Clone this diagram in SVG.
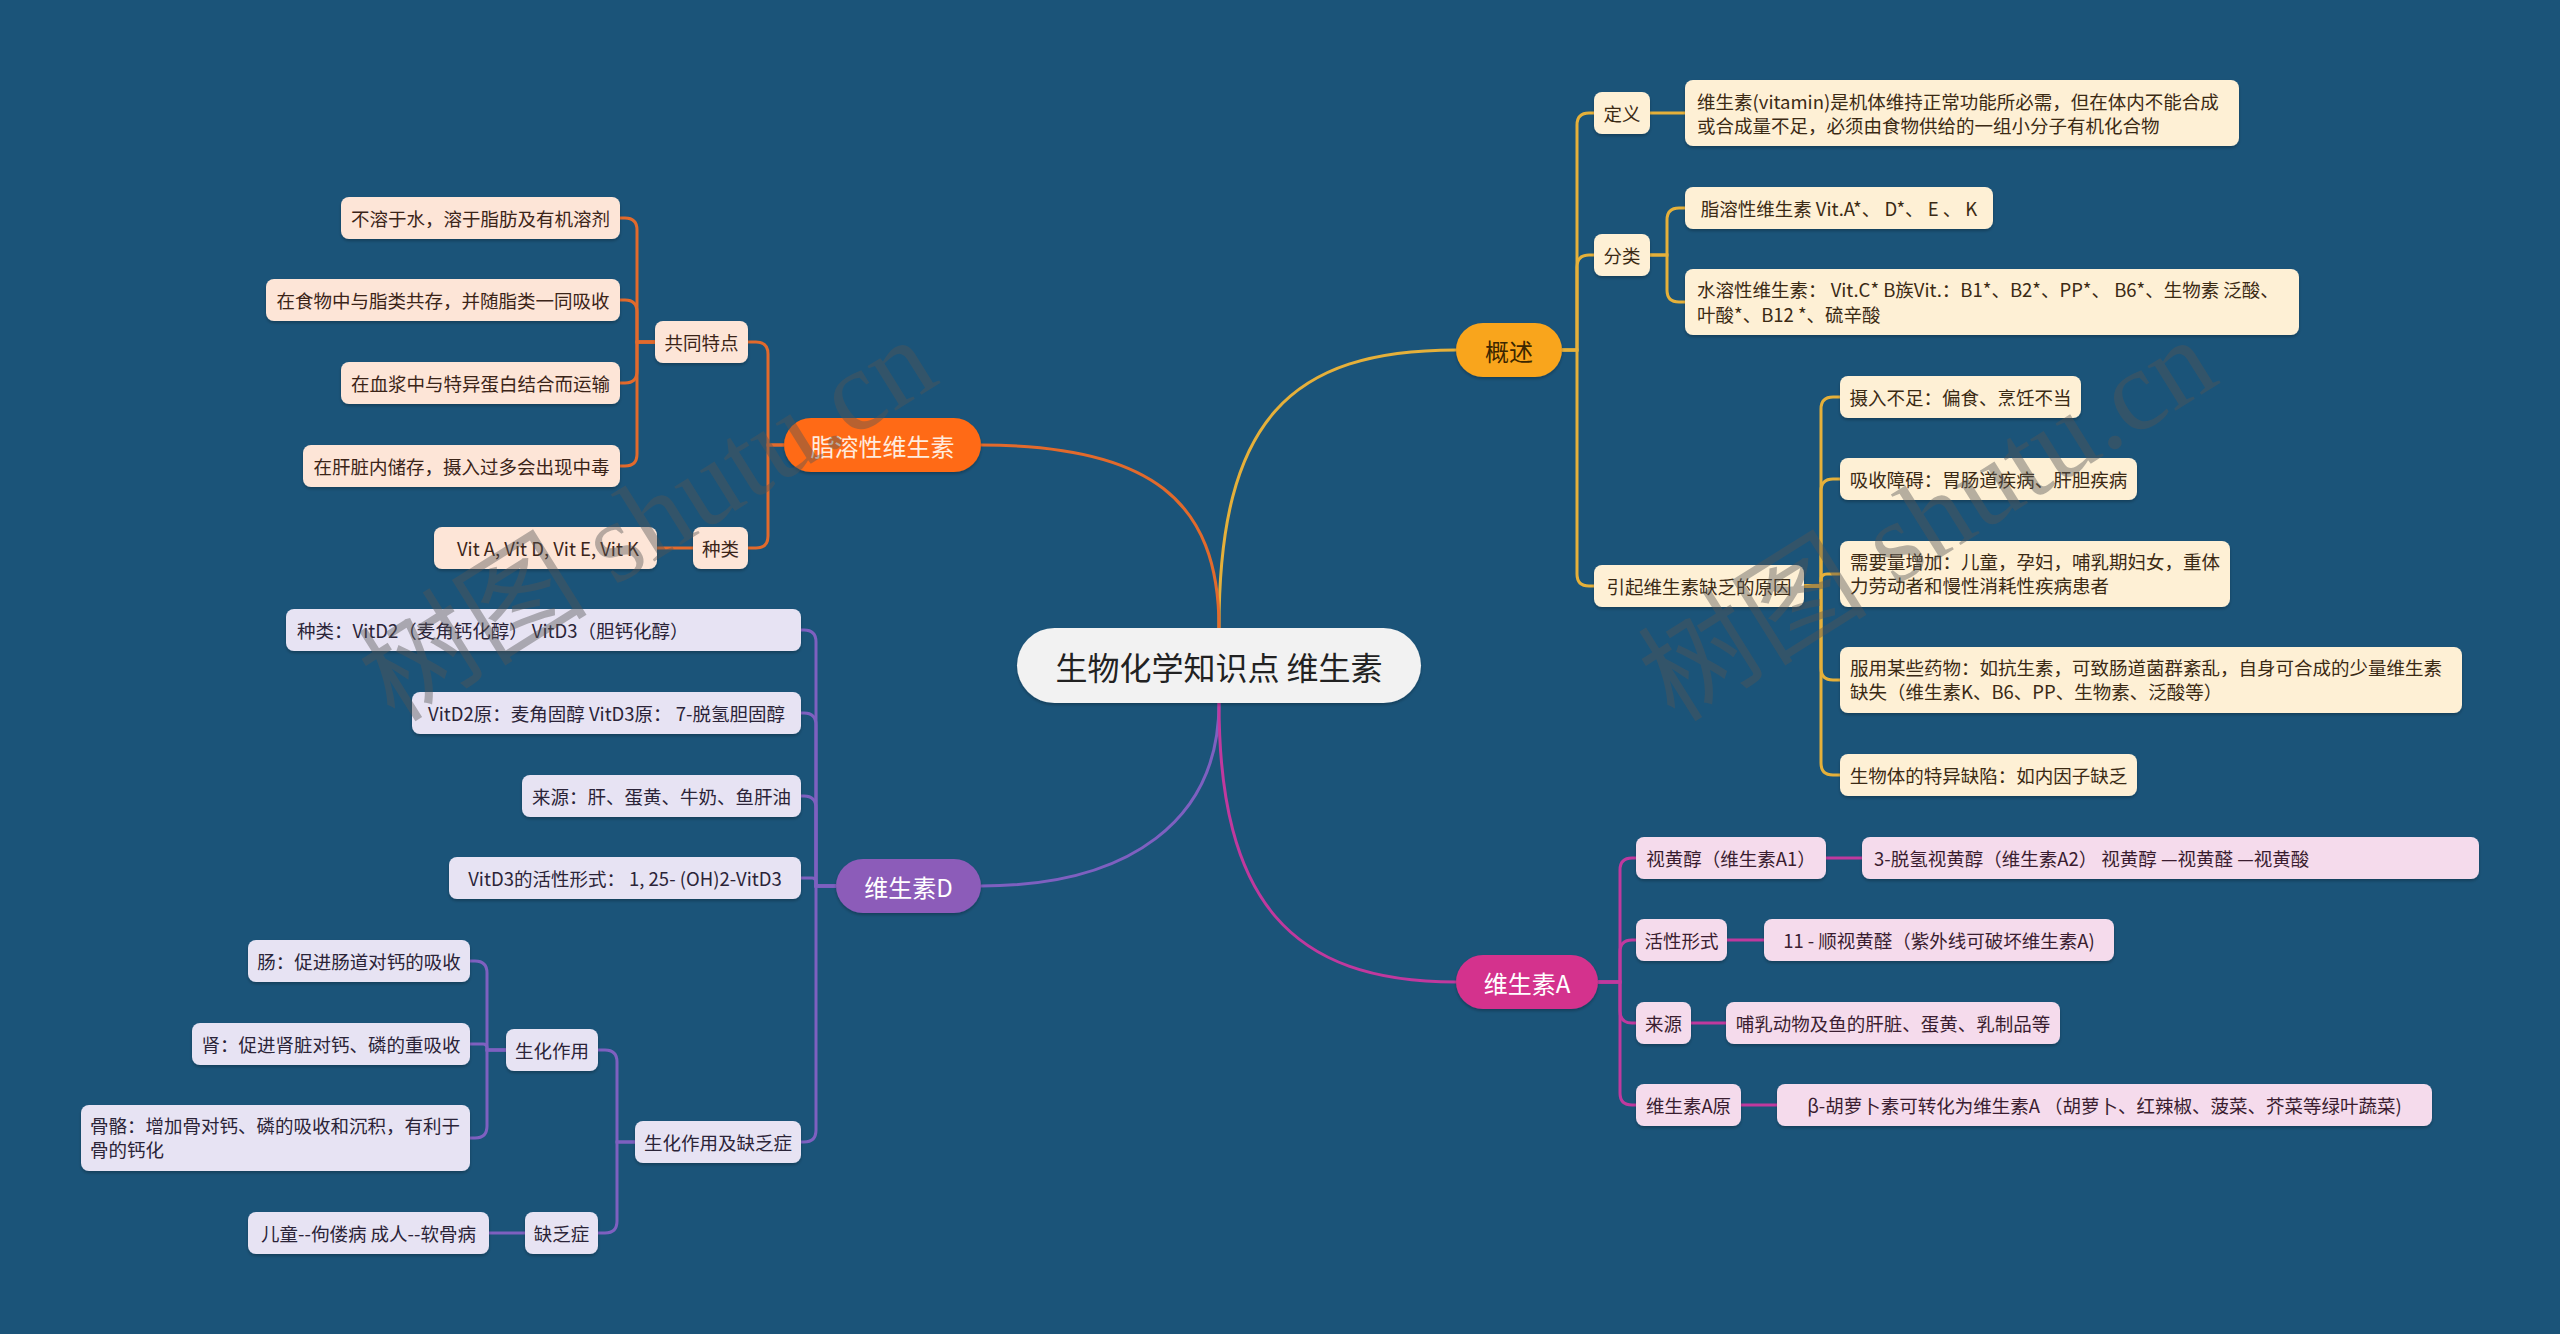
<svg xmlns="http://www.w3.org/2000/svg" width="2560" height="1334" viewBox="0 0 2560 1334">
<defs>
<filter id="sh" x="-10%" y="-20%" width="120%" height="150%">
<feDropShadow dx="0" dy="2" stdDeviation="1.5" flood-color="#000" flood-opacity="0.25"/>
</filter>
<style>
text{font-family:'Noto Sans CJK SC','Noto Sans',sans-serif;}
.t{font-size:18.5px;}
.c{text-anchor:middle;dominant-baseline:central;}
.y rect{fill:#FEF0D5;}
.y text{fill:#3b2a14;}
.o rect{fill:#FDE5D7;}
.o text{fill:#3b2418;}
.p rect{fill:#E7E3F3;}
.p text{fill:#2b2438;}
.m rect{fill:#F5DBEC;}
.m text{fill:#3a1d30;}
.n rect{filter:url(#sh);}
.ly{stroke:#E5B03A;}
.lo{stroke:#E26A2C;}
.lp{stroke:#7E60C0;}
.lm{stroke:#C0399E;}
#links path{fill:none;stroke-width:3;}
.wm{font-family:'Liberation Serif','Noto Sans CJK SC',serif;font-size:115px;fill:#555;opacity:0.42;text-anchor:middle;dominant-baseline:central;}
</style>
</defs>
<rect width="2560" height="1334" fill="#1B5479"/>

<g id="links">
<path class="ly" d="M1219 628 C1219 420 1290 350 1456 350"/>
<path class="lo" d="M1219 628 C1219 500 1150 445 981 445"/>
<path class="lp" d="M1219 703 C1219 820 1130 886 981 886"/>
<path class="lm" d="M1219 703 C1219 900 1290 982 1456 982"/>

<path class="ly" d="M1562 350 H1577 V125 Q1577 113 1589 113 H1594"/>
<path class="ly" d="M1562 350 H1577 V267 Q1577 255 1589 255 H1594"/>
<path class="ly" d="M1562 350 H1577 V574 Q1577 586 1589 586 H1594"/>
<path class="ly" d="M1650 113 H1685"/>
<path class="ly" d="M1650 255 H1667 V220 Q1667 208 1679 208 H1685"/>
<path class="ly" d="M1650 255 H1667 V290 Q1667 302 1679 302 H1685"/>
<path class="ly" d="M1804 586 H1821 V409 Q1821 397 1833 397 H1840"/>
<path class="ly" d="M1804 586 H1821 V491 Q1821 479 1833 479 H1840"/>
<path class="ly" d="M1804 586 H1821 V580 Q1821 574 1827 574 H1840"/>
<path class="ly" d="M1804 586 H1821 V668 Q1821 680 1833 680 H1840"/>
<path class="ly" d="M1804 586 H1821 V763 Q1821 775 1833 775 H1840"/>

<path class="lm" d="M1598 982 H1620 V870 Q1620 858 1632 858 H1636"/>
<path class="lm" d="M1598 982 H1620 V952 Q1620 940 1632 940 H1636"/>
<path class="lm" d="M1598 982 H1620 V1011 Q1620 1023 1632 1023 H1636"/>
<path class="lm" d="M1598 982 H1620 V1093 Q1620 1105 1632 1105 H1636"/>
<path class="lm" d="M1826 858 H1862"/>
<path class="lm" d="M1727 940 H1764"/>
<path class="lm" d="M1691 1023 H1726"/>
<path class="lm" d="M1741 1105 H1777"/>

<path class="lo" d="M784 445 H768 V354 Q768 342 756 342 H748"/>
<path class="lo" d="M784 445 H768 V536 Q768 548 756 548 H748"/>
<path class="lo" d="M655 342 H637 V230 Q637 218 625 218 H620"/>
<path class="lo" d="M655 342 H637 V312 Q637 300 625 300 H620"/>
<path class="lo" d="M655 342 H637 V371 Q637 383 625 383 H620"/>
<path class="lo" d="M655 342 H637 V454 Q637 466 625 466 H620"/>
<path class="lo" d="M693 548 H657"/>

<path class="lp" d="M836 886 H816 V642 Q816 630 804 630 H801"/>
<path class="lp" d="M836 886 H816 V725 Q816 713 804 713 H801"/>
<path class="lp" d="M836 886 H816 V808 Q816 796 804 796 H801"/>
<path class="lp" d="M836 886 H816 V882 Q816 878 812 878 H801"/>
<path class="lp" d="M836 886 H816 V1130 Q816 1142 804 1142 H801"/>
<path class="lp" d="M635 1142 H617 V1062 Q617 1050 605 1050 H598"/>
<path class="lp" d="M635 1142 H617 V1221 Q617 1233 605 1233 H598"/>
<path class="lp" d="M506 1050 H487 V973 Q487 961 475 961 H470"/>
<path class="lp" d="M506 1050 H487 V1048 Q487 1044 483 1044 H470"/>
<path class="lp" d="M506 1050 H487 V1126 Q487 1138 475 1138 H470"/>
<path class="lp" d="M525 1233 H489"/>
</g>

<g id="root" class="n"><rect x="1017" y="628" width="404" height="75" rx="37.5" fill="#F2F2F2"/><text class="c" x="1219" y="666" font-size="32" fill="#222">生物化学知识点 维生素</text></g>

<g id="gaishu" class="n"><rect x="1456" y="323" width="106" height="54" rx="27" fill="#F9A51F"/><text class="c" x="1509" y="350" font-size="24" fill="#3b2600">概述</text></g>
<g id="zhirong" class="n"><rect x="784" y="418" width="197" height="54" rx="27" fill="#FF6A12"/><text class="c" x="882.5" y="445" font-size="24" fill="#FFEBDD">脂溶性维生素</text></g>
<g id="vitd" class="n"><rect x="836" y="859" width="145" height="54" rx="27" fill="#8C5CB9"/><text class="c" x="908.5" y="886" font-size="24" fill="#fff">维生素D</text></g>
<g id="vita" class="n"><rect x="1456" y="955" width="142" height="54" rx="27" fill="#D4338D"/><text class="c" x="1527" y="982" font-size="24" fill="#fff">维生素A</text></g>

<g class="y n t">
<g id="dingyi"><rect x="1594" y="92" width="56" height="42" rx="8"/><text class="c" x="1622" y="113">定义</text></g>
<g id="dingyi-t"><rect x="1685" y="80" width="554" height="66" rx="8"/><text x="1697" y="109">维生素(vitamin)是机体维持正常功能所必需，但在体内不能合成</text><text x="1697" y="133">或合成量不足，必须由食物供给的一组小分子有机化合物</text></g>
<g id="fenlei"><rect x="1594" y="234" width="56" height="42" rx="8"/><text class="c" x="1622" y="255">分类</text></g>
<g id="fenlei-1"><rect x="1685" y="187" width="308" height="42" rx="8"/><text class="c" x="1839" y="208">脂溶性维生素 Vit.A*、 D*、 E 、 K</text></g>
<g id="fenlei-2"><rect x="1685" y="269" width="614" height="66" rx="8"/><text x="1697" y="297">水溶性维生素： Vit.C* B族Vit.：B1*、B2*、PP*、 B6*、生物素 泛酸、</text><text x="1697" y="322">叶酸*、B12 *、硫辛酸</text></g>
<g id="yuanyin"><rect x="1594" y="565" width="210" height="42" rx="8"/><text class="c" x="1699" y="586">引起维生素缺乏的原因</text></g>
<g id="yy1"><rect x="1840" y="376" width="241" height="42" rx="8"/><text class="c" x="1960.5" y="397">摄入不足：偏食、烹饪不当</text></g>
<g id="yy2"><rect x="1840" y="458" width="297" height="42" rx="8"/><text class="c" x="1988.5" y="479">吸收障碍：胃肠道疾病、肝胆疾病</text></g>
<g id="yy3"><rect x="1840" y="541" width="390" height="66" rx="8"/><text x="1850" y="569">需要量增加：儿童，孕妇，哺乳期妇女，重体</text><text x="1850" y="593">力劳动者和慢性消耗性疾病患者</text></g>
<g id="yy4"><rect x="1840" y="647" width="622" height="66" rx="8"/><text x="1850" y="675">服用某些药物：如抗生素，可致肠道菌群紊乱，自身可合成的少量维生素</text><text x="1850" y="699">缺失（维生素K、B6、PP、生物素、泛酸等）</text></g>
<g id="yy5"><rect x="1840" y="754" width="297" height="42" rx="8"/><text class="c" x="1988.5" y="775">生物体的特异缺陷：如内因子缺乏</text></g>
</g>

<g class="m n t">
<g id="a1"><rect x="1636" y="837" width="190" height="42" rx="8"/><text class="c" x="1731" y="858">视黄醇（维生素A1）</text></g>
<g id="a1t"><rect x="1862" y="837" width="617" height="42" rx="8"/><text x="1874" y="858" dominant-baseline="central">3-脱氢视黄醇（维生素A2） 视黄醇 —视黄醛 —视黄酸</text></g>
<g id="a2"><rect x="1636" y="919" width="91" height="42" rx="8"/><text class="c" x="1681.5" y="940">活性形式</text></g>
<g id="a2t"><rect x="1764" y="919" width="350" height="42" rx="8"/><text class="c" x="1939" y="940">11 - 顺视黄醛（紫外线可破坏维生素A)</text></g>
<g id="a3"><rect x="1636" y="1002" width="55" height="42" rx="8"/><text class="c" x="1663.5" y="1023">来源</text></g>
<g id="a3t"><rect x="1726" y="1002" width="334" height="42" rx="8"/><text class="c" x="1893" y="1023">哺乳动物及鱼的肝脏、蛋黄、乳制品等</text></g>
<g id="a4"><rect x="1636" y="1084" width="105" height="42" rx="8"/><text class="c" x="1688.5" y="1105">维生素A原</text></g>
<g id="a4t"><rect x="1777" y="1084" width="655" height="42" rx="8"/><text class="c" x="2104.5" y="1105">β-胡萝卜素可转化为维生素A （胡萝卜、红辣椒、菠菜、芥菜等绿叶蔬菜)</text></g>
</g>

<g class="o n t">
<g id="gt"><rect x="655" y="321" width="93" height="42" rx="8"/><text class="c" x="701.5" y="342">共同特点</text></g>
<g id="gt1"><rect x="341" y="197" width="279" height="42" rx="8"/><text class="c" x="480.5" y="218">不溶于水，溶于脂肪及有机溶剂</text></g>
<g id="gt2"><rect x="266" y="279" width="354" height="42" rx="8"/><text class="c" x="443" y="300">在食物中与脂类共存，并随脂类一同吸收</text></g>
<g id="gt3"><rect x="341" y="362" width="279" height="42" rx="8"/><text class="c" x="480.5" y="383">在血浆中与特异蛋白结合而运输</text></g>
<g id="gt4"><rect x="303" y="445" width="317" height="42" rx="8"/><text class="c" x="461.5" y="466">在肝脏内储存，摄入过多会出现中毒</text></g>
<g id="zl"><rect x="693" y="527" width="55" height="42" rx="8"/><text class="c" x="720.5" y="548">种类</text></g>
<g id="zl1"><rect x="434" y="527" width="223" height="42" rx="8"/><text class="c" x="548" y="548">Vit A, Vit D, Vit E, Vit K</text></g>
</g>

<g class="p n t">
<g id="d1"><rect x="286" y="609" width="515" height="42" rx="8"/><text x="297" y="630" dominant-baseline="central">种类：VitD2（麦角钙化醇） VitD3（胆钙化醇）</text></g>
<g id="d2"><rect x="412" y="692" width="389" height="42" rx="8"/><text class="c" x="606.5" y="713">VitD2原：麦角固醇 VitD3原： 7-脱氢胆固醇</text></g>
<g id="d3"><rect x="522" y="775" width="279" height="42" rx="8"/><text class="c" x="661.5" y="796">来源：肝、蛋黄、牛奶、鱼肝油</text></g>
<g id="d4"><rect x="449" y="857" width="352" height="42" rx="8"/><text class="c" x="625" y="878">VitD3的活性形式： 1, 25- (OH)2-VitD3</text></g>
<g id="d5"><rect x="635" y="1121" width="166" height="42" rx="8"/><text class="c" x="718" y="1142">生化作用及缺乏症</text></g>
<g id="d51"><rect x="506" y="1029" width="92" height="42" rx="8"/><text class="c" x="552" y="1050">生化作用</text></g>
<g id="d511"><rect x="248" y="940" width="222" height="42" rx="8"/><text class="c" x="359" y="961">肠：促进肠道对钙的吸收</text></g>
<g id="d512"><rect x="192" y="1023" width="278" height="42" rx="8"/><text class="c" x="331" y="1044">肾：促进肾脏对钙、磷的重吸收</text></g>
<g id="d513"><rect x="81" y="1105" width="389" height="66" rx="8"/><text x="90" y="1133">骨骼：增加骨对钙、磷的吸收和沉积，有利于</text><text x="90" y="1157">骨的钙化</text></g>
<g id="d52"><rect x="525" y="1212" width="73" height="42" rx="8"/><text class="c" x="561.5" y="1233">缺乏症</text></g>
<g id="d521"><rect x="248" y="1212" width="241" height="42" rx="8"/><text class="c" x="368.5" y="1233">儿童--佝偻病 成人--软骨病</text></g>
</g>

<g id="watermark">
<text class="wm" transform="translate(648,520) rotate(-32)">树图 shutu.cn</text>
<text class="wm" transform="translate(1928,520) rotate(-32)">树图 shutu.cn</text>
</g>
</svg>
